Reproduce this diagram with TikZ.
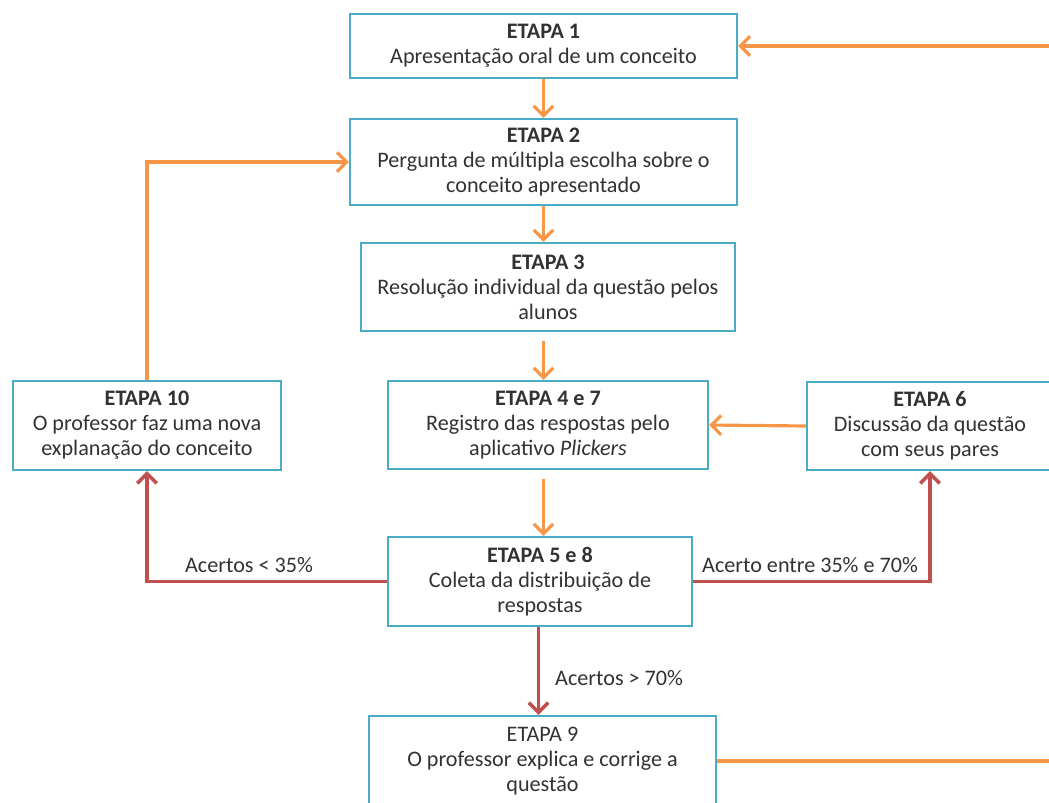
\documentclass[tikz,border=0pt]{standalone}
\usepackage{fontspec}
\setmainfont{Carlito}
\usetikzlibrary{arrows.meta,positioning}
\definecolor{boxblue}{RGB}{75,172,198}
\definecolor{floworange}{RGB}{247,150,70}
\definecolor{flowred}{RGB}{192,80,77}
\definecolor{txtgray}{RGB}{50,50,50}
\tikzset{
  etapa/.style={draw=boxblue, line width=1.4pt, fill=white,
    align=center, inner sep=2pt, text=txtgray,
    font=\fontsize{12.6}{14.2}\selectfont},
  oarr/.style={-{Straight Barb[length=5.5pt,width=11pt]}, line width=1.8pt, floworange},
  rarr/.style={-{Straight Barb[length=5.5pt,width=11pt]}, line width=2pt, flowred},
  lbl/.style={text=txtgray, font=\fontsize{12.6}{14.2}\selectfont},
}

\begin{document}
\begin{tikzpicture}[x=0.02cm, y=-0.02cm]
  \useasboundingbox (0,0) rectangle (1049,802);
  \clip (0,0) rectangle (1049,802);

  % Etapas
  \node[etapa, minimum width=7.74cm, minimum height=1.28cm] (e1) at (543.5,46)
    {\textbf{ETAPA 1}\\Apresentação oral de um conceito};
  \node[etapa, minimum width=7.74cm, minimum height=1.72cm] (e2) at (543.5,162)
    {\textbf{ETAPA 2}\\Pergunta de múltipla escolha sobre o\\conceito apresentado};
  \node[etapa, minimum width=7.48cm, minimum height=1.76cm] (e3) at (548,287)
    {\textbf{ETAPA 3}\\Resolução individual da questão pelos\\alunos};
  \node[etapa, minimum width=6.4cm, minimum height=1.76cm] (e47) at (548,425)
    {\textbf{ETAPA 4 e 7}\\Registro das respostas pelo\\aplicativo \textit{Plickers}};
  \node[etapa, minimum width=5.36cm, minimum height=1.78cm] (e10) at (147,425.5)
    {\textbf{ETAPA 10}\\O professor faz uma nova\\explanação do conceito};
  \node[etapa, minimum width=4.92cm, minimum height=1.76cm] (e6) at (930,426)
    {\textbf{ETAPA 6}\\Discussão da questão\\com seus pares};
  \node[etapa, minimum width=6.08cm, minimum height=1.78cm] (e58) at (540,581.5)
    {\textbf{ETAPA 5 e 8}\\Coleta da distribuição de\\respostas};
  \node[etapa, minimum width=6.94cm, minimum height=1.8cm] (e9) at (542.5,761)
    {ETAPA 9\\O professor explica e corrige a\\questão};

  % Fluxo principal
  \draw[oarr] (e1.south) -- (e2.north);
  \draw[oarr] (e2.south) -- (e2.south |- e3.north);
  \draw[oarr, shorten <=5pt] (e3.south -| e1.south) -- (e1.south |- e47.north);
  \draw[oarr, shorten <=5pt] (e47.south -| e1.south) -- (e1.south |- e58.north);
  \draw[oarr] (e6.west) -- (e47.east);
  \draw[oarr] (e10.north) |- (e2.west);

  % Decisoes
  \draw[rarr] (e58.west) -| (e10.south);
  \draw[rarr] (e58.east) -| (e6.south);
  \draw[rarr] (e58.south -| e1.south) ++(-5,0) coordinate (d9) -- (d9 |- e9.north);

  % Retorno
  \coordinate (back) at (1075,46);
  \draw[oarr] (e9.east) -| (back) -- (e1.east);

  % Rotulos
  \node[lbl] (l35) at (249,565) {Acertos < 35\%};
  \node[lbl] (l3570) at (810,565) {Acerto entre 35\% e 70\%};
  \node[lbl, anchor=west] (l70) at (549,678) {Acertos > 70\%};
\end{tikzpicture}
\end{document}
